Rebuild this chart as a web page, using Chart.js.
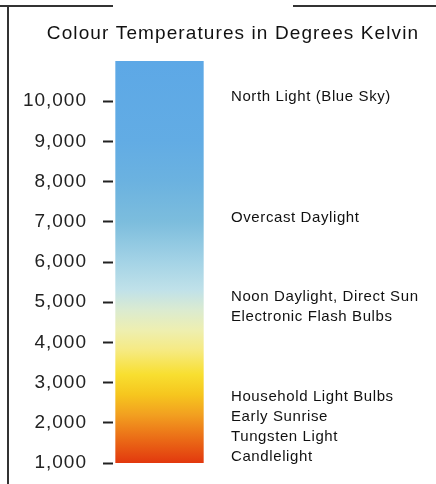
<!DOCTYPE html>
<html>
<head>
<meta charset="utf-8">
<script src="https://cdn.jsdelivr.net/npm/chart.js@4"></script>
<style>
  html, body { margin: 0; padding: 0; background: #fff; }
  #wrap { width: 436px; height: 484px; position: relative; }
</style>
</head>
<body>
<div id="wrap"><canvas id="myChart" aria-label="colour temperature bar" role="img"></canvas></div>
<script>
// data
const title = "Colour Temperatures in Degrees Kelvin";
const categories = ["Colour temperature"];
const rangeLow = [1000];
const rangeHigh = [11000];
const tickValues = [1000, 2000, 3000, 4000, 5000, 6000, 7000, 8000, 9000, 10000];

// light sources, and the temperature each label sits at
const sourceNames = [
  "North Light (Blue Sky)",
  "Overcast Daylight",
  "Noon Daylight, Direct Sun",
  "Electronic Flash Bulbs",
  "Household Light Bulbs",
  "Early Sunrise",
  "Tungsten Light",
  "Candlelight",
];
const sourceKelvin = [10100, 7100, 5130, 4630, 2640, 2140, 1650, 1150];

// gradient colour stops along the bar (kelvin -> colour)
const stopKelvin = [11000, 9000, 8000, 7000, 6000, 5300, 4800, 4300, 3800, 3200, 2700, 2200, 1700, 1000];
const stopColour = ["#5da8e6", "#62ace4", "#6bb2e0", "#7cbddd", "#a4d3e6", "#c0e1e9", "#dbebd0",
  "#eeefb0", "#f6ea82", "#f8df30", "#f6c61e", "#f2a020", "#ec7418", "#e2380e"];

const fontFamily = "'Liberation Sans', Arial, sans-serif";

const decor = {
  id: "decor",
  beforeDraw(chart) {
    chart.ctx.letterSpacing = "1px";
  },
  afterDraw(chart) {
    const ctx = chart.ctx;
    const y = chart.scales.y;
    ctx.save();
    // frame
    ctx.strokeStyle = "#333";
    ctx.lineWidth = 2;
    ctx.beginPath();
    ctx.moveTo(0, 6); ctx.lineTo(113, 6);
    ctx.moveTo(293, 6); ctx.lineTo(436, 6);
    ctx.moveTo(8, 6); ctx.lineTo(8, 484);
    ctx.stroke();
    // title
    ctx.fillStyle = "#111";
    ctx.letterSpacing = "1.1px";
    ctx.font = "19px " + fontFamily;
    ctx.textAlign = "center";
    ctx.textBaseline = "middle";
    ctx.fillText(title, 233, 34);
    // source labels
    ctx.letterSpacing = "0.6px";
    ctx.font = "15px " + fontFamily;
    ctx.textAlign = "left";
    sourceNames.forEach((name, i) => {
      ctx.fillText(name, 231, y.getPixelForValue(sourceKelvin[i]));
    });
    ctx.restore();
  },
};

function barGradient(context) {
  const chart = context.chart;
  const area = chart.chartArea;
  if (!area) return stopColour[0];
  const y = chart.scales.y;
  const top = y.getPixelForValue(stopKelvin[0]);
  const bottom = y.getPixelForValue(stopKelvin[stopKelvin.length - 1]);
  const g = chart.ctx.createLinearGradient(0, top, 0, bottom);
  stopKelvin.forEach((k, i) => {
    g.addColorStop((y.getPixelForValue(k) - top) / (bottom - top), stopColour[i]);
  });
  return g;
}

new Chart(document.getElementById("myChart"), {
  type: "bar",
  data: {
    labels: categories,
    datasets: [{
      data: rangeLow.map((lo, i) => [lo, rangeHigh[i]]),
      backgroundColor: barGradient,
      borderWidth: 0,
      barPercentage: 0.95,
      categoryPercentage: 1,
    }],
  },
  options: {
    responsive: true,
    maintainAspectRatio: false,
    animation: false,
    layout: { padding: { top: 61, bottom: 21, left: 8, right: 230 } },
    plugins: { legend: { display: false }, tooltip: { enabled: false }, title: { display: false } },
    scales: {
      x: { display: false },
      y: {
        min: 1000,
        max: 11000,
        border: { display: false },
        grid: { drawOnChartArea: false, drawTicks: true, tickLength: 10, tickWidth: 2, color: "#222" },
        ticks: {
          padding: 16,
          color: "#222",
          font: { family: fontFamily, size: 19 },
          callback: (v) => v.toLocaleString("en-US"),
        },
        afterBuildTicks: (scale) => {
          scale.ticks = tickValues.map((v) => ({ value: v }));
        },
        afterFit: (scale) => {
          scale.width = 105;
          scale.paddingTop = 0;
          scale.paddingBottom = 0;
        },
      },
    },
  },
  plugins: [decor],
});
</script>
</body>
</html>
